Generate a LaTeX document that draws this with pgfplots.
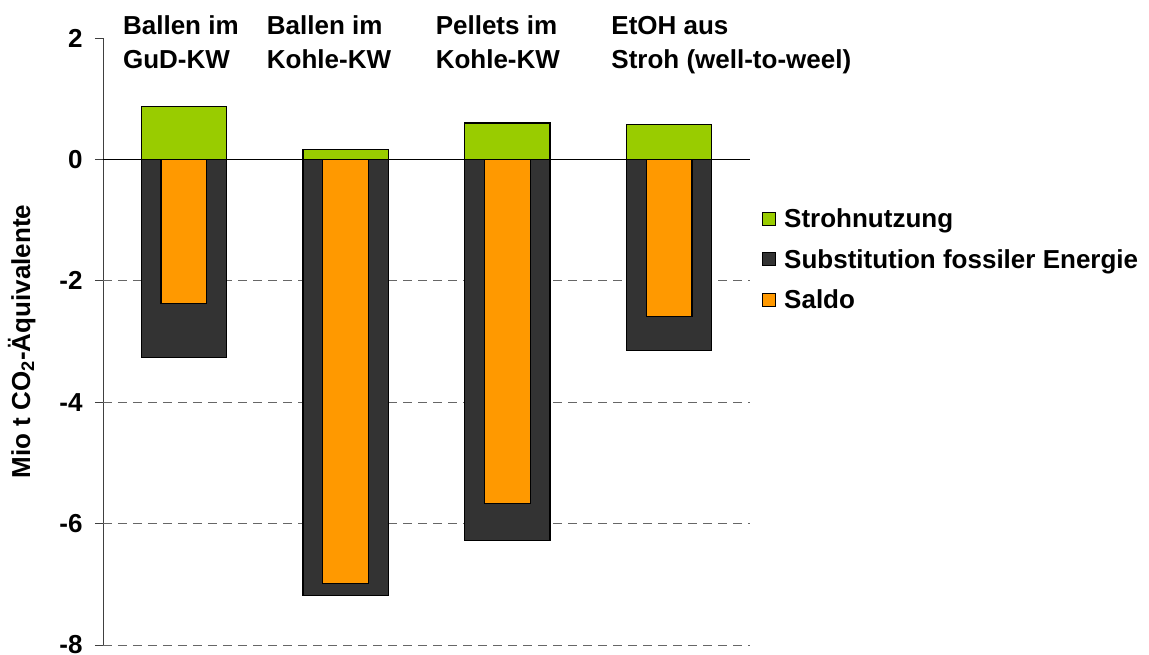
\documentclass[border=0pt]{standalone}
\usepackage{pgfplots}
\pgfplotsset{compat=1.18}
\usepackage{fontspec}
\setmainfont{Liberation Sans}
\definecolor{cgreen}{HTML}{99CC00}
\definecolor{cdark}{HTML}{333333}
\definecolor{corange}{HTML}{FF9900}
\newcommand{\bigf}{\fontsize{26}{31}\selectfont\bfseries}
\begin{document}
\begin{tikzpicture}[font=\bigf]
\begin{axis}[
  scale only axis, width=647pt, height=607pt,
  xmin=-0.5, xmax=3.5, ymin=-8, ymax=2,
  clip=false,
  axis x line=none, axis y line*=left,
  axis line style={draw=black!75, line width=0.8pt},
  ytick={-8,-6,...,2},
  tick align=outside, major tick length=8pt,
  ytick style={draw=black!75, line width=0.8pt},
  yticklabel style={font=\bigf, /pgf/number format/assume math mode=true, xshift=-9pt},
  extra y ticks={-8,-6,-4,-2},
  extra y tick labels={},
  extra y tick style={grid=major, major tick length=0pt},
  major grid style={draw=black!60, line width=0.8pt, dash pattern=on 9pt off 6pt},
  ylabel={Mio t CO\textsubscript{2}-Äquivalente},
  ylabel style={font=\bigf, yshift=9pt},
  legend style={draw=none, fill=none, at={(1,0.722)}, anchor=north west, xshift=12pt,
    font=\bigf, inner sep=0pt, row sep=16pt,
    nodes={inner xsep=4pt, inner ysep=2pt},
    /tikz/every odd column/.append style={column sep=4pt}},
  legend cell align=left,
  legend image code/.code={\draw[#1, draw=black, line width=1pt] (0pt,-6.5pt) rectangle (13pt,6.5pt);},
]
\addplot[ybar, bar width=0.526, bar shift=0pt, fill=cgreen, draw=black, line width=1.2pt]
  coordinates {(0,0.873) (1,0.165) (2,0.598) (3,0.571)};
\addlegendentry{Strohnutzung}
\addplot[ybar, bar width=0.526, bar shift=0pt, fill=cdark, draw=black, line width=1.2pt]
  coordinates {(0,-3.27) (1,-7.18) (2,-6.28) (3,-3.15)};
\addlegendentry{Substitution fossiler Energie}
\addplot[ybar, bar width=0.284, bar shift=0pt, fill=corange, draw=black, line width=1.2pt]
  coordinates {(0,-2.38) (1,-6.99) (2,-5.67) (3,-2.59)};
\addlegendentry{Saldo}
\draw[black, line width=0.9pt] (axis cs:-0.5,0) -- (axis cs:3.5,0);
\node[anchor=base west, inner sep=0pt] at (axis cs:-0.377,2.059) {Ballen im};
\node[anchor=base west, inner sep=0pt] at (axis cs:-0.377,1.499) {GuD-KW};
\node[anchor=base west, inner sep=0pt] at (axis cs:0.512,2.059) {Ballen im};
\node[anchor=base west, inner sep=0pt] at (axis cs:0.512,1.499) {Kohle-KW};
\node[anchor=base west, inner sep=0pt] at (axis cs:1.556,2.059) {Pellets im};
\node[anchor=base west, inner sep=0pt] at (axis cs:1.556,1.499) {Kohle-KW};
\node[anchor=base west, inner sep=0pt] at (axis cs:2.642,2.059) {EtOH aus};
\node[anchor=base west, inner sep=0pt] at (axis cs:2.642,1.499) {Stroh (well-to-weel)};
\end{axis}
\pgfresetboundingbox
\path (current axis.south west) ++(-103pt,-10pt) rectangle ++(1149pt,655pt);
\end{tikzpicture}
\end{document}
